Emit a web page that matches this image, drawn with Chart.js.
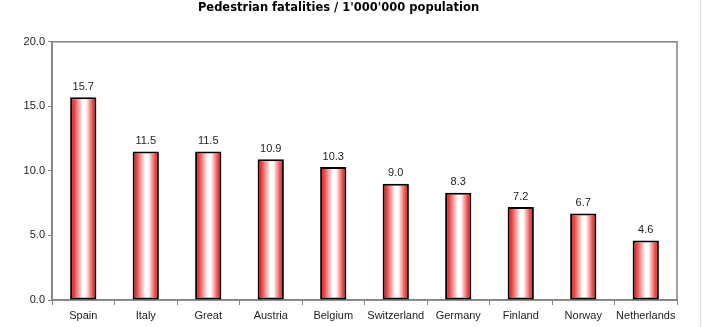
<!DOCTYPE html>
<html>
<head>
<meta charset="utf-8">
<script src="https://cdn.jsdelivr.net/npm/chart.js@4.4.1/dist/chart.umd.min.js"></script>
<style>
  html, body { margin: 0; padding: 0; background: #fff; }
  #wrap { width: 709px; height: 327px; }
</style>
</head>
<body>
<div id="wrap"><canvas id="barChart" width="709" height="327"></canvas></div>
<script>
var countries = ['Spain', 'Italy', 'Great', 'Austria', 'Belgium', 'Switzerland', 'Germany', 'Finland', 'Norway', 'Netherlands'];
var fatalities = [15.7, 11.5, 11.5, 10.9, 10.3, 9.0, 8.3, 7.2, 6.7, 4.6];
var yTicks = [0, 5, 10, 15, 20];

var labelFont = '11px "Liberation Sans", Arial, sans-serif';
var barPct = 0.42;

// red-white-red shading across each bar
function barShading(c) {
  var chart = c.chart, x = chart.scales.x;
  if (!x || c.dataIndex === undefined) return '#f06060';
  var cx = x.getPixelForValue(c.dataIndex);
  var half = (x.width / countries.length) * barPct / 2;
  if (!isFinite(cx) || !isFinite(half) || half <= 0) return '#f06060';
  var g = chart.ctx.createLinearGradient(cx - half, 0, cx + half, 0);
  g.addColorStop(0, '#d00000');
  g.addColorStop(0.18, '#ee5050');
  g.addColorStop(0.48, '#ffffff');
  g.addColorStop(0.6, '#ffffff');
  g.addColorStop(0.85, '#ee5050');
  g.addColorStop(1, '#d00000');
  return g;
}

// value printed above every bar
var valueLabels = {
  id: 'valueLabels',
  afterDatasetsDraw: function(chart) {
    var ctx = chart.ctx;
    ctx.save();
    ctx.font = labelFont;
    ctx.fillStyle = '#222';
    ctx.textAlign = 'center';
    ctx.textBaseline = 'bottom';
    chart.getDatasetMeta(0).data.forEach(function(bar, i) {
      ctx.fillText(fatalities[i].toFixed(1), bar.x, bar.y - 5);
    });
    ctx.restore();
  }
};

// grey frame round the plot area plus the thin line at the right edge
var plotFrame = {
  id: 'plotFrame',
  beforeDatasetsDraw: function(chart) {
    var a = chart.chartArea, ctx = chart.ctx;
    ctx.save();
    ctx.strokeStyle = '#808080';
    ctx.lineWidth = 1.5;
    ctx.strokeRect(a.left, a.top, a.right - a.left, a.bottom - a.top);
    ctx.strokeStyle = '#dcdcdc';
    ctx.lineWidth = 1;
    ctx.beginPath();
    ctx.moveTo(700.5, 0);
    ctx.lineTo(700.5, chart.height);
    ctx.stroke();
    ctx.restore();
  }
};

var ctxB = document.getElementById('barChart').getContext('2d');
var myBarChart = new Chart(ctxB, {
  type: 'bar',
  data: {
    labels: countries,
    datasets: [{
      data: fatalities,
      backgroundColor: barShading,
      borderColor: '#000',
      borderWidth: 2,
      borderSkipped: false,
      barPercentage: barPct,
      categoryPercentage: 1.0
    }]
  },
  options: {
    responsive: false,
    animation: false,
    layout: { padding: { left: 0, right: 32, top: 0, bottom: 0 } },
    plugins: {
      legend: { display: false },
      tooltip: { enabled: false },
      title: {
        display: true,
        text: "Pedestrian fatalities / 1'000'000 population",
        color: '#000',
        font: { family: '"DejaVu Sans", Verdana, sans-serif', size: 11.5, weight: 'bold' },
        padding: { top: 1, bottom: 27 }
      }
    },
    scales: {
      x: {
        grid: { drawOnChartArea: false, drawTicks: true, tickLength: 5, color: '#808080', offset: true },
        border: { color: '#808080', width: 1.5 },
        ticks: { color: '#222', font: { family: '"Liberation Sans", Arial, sans-serif', size: 11 }, padding: 4, maxRotation: 0 },
        afterFit: function(s) { s.height = 27; }
      },
      y: {
        min: 0,
        max: 20,
        afterBuildTicks: function(s) { s.ticks = yTicks.map(function(v) { return { value: v }; }); },
        grid: { drawOnChartArea: false, drawTicks: true, tickLength: 4, color: '#808080' },
        border: { color: '#808080', width: 1.5 },
        ticks: {
          color: '#222',
          font: { family: '"Liberation Sans", Arial, sans-serif', size: 11 },
          padding: 3,
          callback: function(v) { return Number(v).toFixed(1); }
        },
        afterFit: function(s) { s.width = 52; }
      }
    }
  },
  plugins: [plotFrame, valueLabels]
});
</script>
</body>
</html>
